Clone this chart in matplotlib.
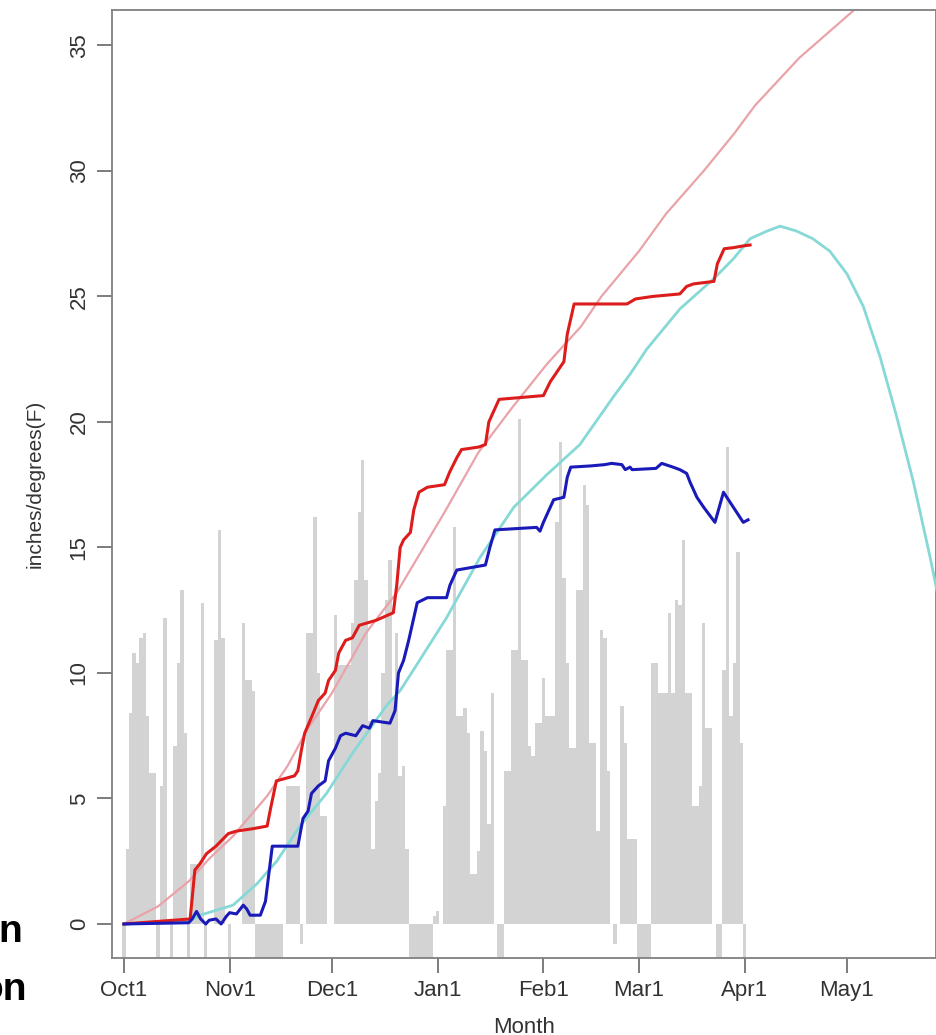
import matplotlib
matplotlib.use("Agg")
import matplotlib.pyplot as plt

plt.rcParams["font.family"] = ["Liberation Sans", "DejaVu Sans"]

# daily bars (Oct1 .. Apr1), one value per day
bar_oct = [-1.6, 3.0, 8.4, 10.8, 10.4, 11.4, 11.6, 8.3, 6.0, 6.0,
           -1.6, 5.5, 12.2, 0.0, -1.6, 7.1, 10.4, 13.3, 7.6, -1.6,
           2.4, 2.4, 2.4, 12.8, -1.6, 0.0, 0.0, 11.3, 15.7, 11.4, 0.0]
bar_nov = [-1.6, 0.0, 0.0, 0.0, 12.0, 9.7, 9.7, 9.3, -1.6, -1.6,
           -1.6, -1.6, -1.6, -1.6, -1.6, -1.6, 0.0, 5.5, 5.5, 5.5,
           5.5, -0.8, 0.0, 11.6, 11.6, 16.2, 10.0, 4.3, 4.3, 0.0]
bar_dec = [0.0, 12.3, 10.3, 10.3, 10.3, 10.3, 12.0, 13.7, 16.4, 18.5,
           13.7, 8.1, 3.0, 4.9, 6.0, 10.0, 12.9, 14.5, 9.0, 11.6,
           5.9, 6.3, 3.0, -1.6, -1.6, -1.6, -1.6, -1.6, -1.6, -1.6, 0.3]
bar_jan = [0.5, 0.0, 4.7, 10.9, 10.9, 15.8, 8.3, 8.3, 8.6, 7.6,
           2.0, 2.0, 2.9, 7.7, 6.9, 4.0, 9.2, 0.0, -1.6, -1.6,
           6.1, 6.1, 10.9, 10.9, 20.1, 10.5, 10.5, 7.1, 6.7, 8.0, 8.0]
bar_feb = [9.8, 8.3, 8.3, 8.3, 16.0, 19.2, 13.8, 10.4, 7.0, 7.0,
           13.3, 13.3, 17.5, 16.7, 7.2, 7.2, 3.7, 11.7, 11.4, 6.1,
           0.0, -0.8, 0.0, 8.7, 7.2, 3.4, 3.4, 3.4]
bar_mar = [-1.6, -1.6, -1.6, -1.6, 10.4, 10.4, 9.2, 9.2, 9.2, 12.4,
           9.2, 12.9, 12.7, 15.3, 9.2, 9.2, 4.7, 4.7, 5.5, 12.0,
           7.8, 7.8, 0.0, -1.6, -1.6, 10.1, 19.0, 8.3, 10.4, 14.8, 7.2,
           -1.6]
bars = bar_oct + bar_nov + bar_dec + bar_jan + bar_feb + bar_mar
bar_days = list(range(len(bars)))

# pink: average cumulative precipitation
pink_day = [0, 10, 19, 25, 32, 42, 48, 54, 61, 71, 80, 87, 94, 104, 114,
            124, 134, 140, 151, 159, 170, 179, 185, 198, 214, 240]
pink_val = [0, 0.7, 1.7, 2.6, 3.5, 5.1, 6.3, 7.8, 9.2, 11.6, 13.2, 14.8,
            16.4, 18.8, 20.6, 22.3, 23.8, 25.0, 26.8, 28.3, 30.0, 31.5,
            32.6, 34.5, 36.4, 39.5]

# cyan: median snow water
cyan_day = [0, 19, 22.3, 32, 39, 44.8, 51.6, 59.4, 67, 77, 81, 84.8, 94.6,
            104.4, 114.3, 124, 133.7, 143.5, 148.4, 153.3, 163, 172.9,
            178.7, 183.6, 188.5, 192.4, 197.3, 202, 207, 212, 216.8, 221.7,
            226.6, 231.5, 236.4, 240]
cyan_val = [0, 0.1, 0.35, 0.75, 1.6, 2.5, 3.9, 5.2, 6.8, 8.7, 9.3, 10.1,
            12.2, 14.6, 16.6, 17.9, 19.1, 21.0, 21.9, 22.9, 24.5, 25.7, 26.5,
            27.3, 27.6, 27.8, 27.6, 27.3, 26.8, 25.9, 24.6, 22.6, 20.2, 17.6,
            14.6, 12.2]

# red: this year's cumulative precipitation
red_day = [0, 19.4, 20, 20.8, 22.3, 24.2, 27, 30.6, 33, 38, 42, 43, 44.7,
           50, 51, 52, 53, 55.5, 57, 59, 60, 62, 63, 65, 67, 69, 74, 79, 80,
           81, 82, 84, 85, 86.5, 89, 94, 95.5, 97.7, 99, 104, 106, 107, 110,
           123, 125, 127, 129, 130, 132, 147.5, 150, 155, 163, 165, 167, 173,
           174, 176, 179, 181, 183.6]
red_val = [0, 0.2, 1.0, 2.15, 2.4, 2.8, 3.1, 3.6, 3.7, 3.8, 3.9, 4.6, 5.7,
           5.9, 6.1, 6.9, 7.6, 8.4, 8.9, 9.2, 9.7, 10.1, 10.8, 11.3, 11.4,
           11.9, 12.1, 12.4, 13.5, 15.0, 15.3, 15.6, 16.5, 17.2, 17.4, 17.5,
           18.0, 18.6, 18.9, 19.0, 19.1, 20.0, 20.9, 21.05, 21.6, 22.0, 22.4,
           23.5, 24.7, 24.7, 24.9, 25.0, 25.1, 25.4, 25.5, 25.6, 26.3, 26.9,
           26.95, 27.0, 27.05]

# blue: this year's snow water
blue_day = [0, 19, 20, 21.3, 22.5, 24, 25, 27, 28.5, 30, 31, 33, 35, 36, 37,
            40, 41.5, 42.5, 43.5, 51, 52.5, 54, 55, 57, 59, 60, 62, 63.5, 65,
            68, 70, 72, 73, 78, 79.5, 80.5, 82, 83.5, 85, 86, 89, 94.6, 95.6,
            97.6, 106, 107.3, 108.8, 121, 122, 123, 125, 126, 129, 130, 131,
            137, 141, 143, 146, 147, 148.4, 149, 156, 157.7, 161, 163, 165,
            166, 168, 170, 173.3, 175.8, 178.7, 181.6, 183]
blue_val = [0, 0.05, 0.2, 0.5, 0.2, 0.0, 0.15, 0.2, 0.0, 0.3, 0.45, 0.4,
            0.75, 0.6, 0.35, 0.35, 0.9, 2.0, 3.1, 3.1, 4.2, 4.5, 5.2, 5.5,
            5.7, 6.5, 7.0, 7.5, 7.6, 7.5, 7.9, 7.8, 8.1, 8.0, 8.5, 10.0, 10.5,
            11.3, 12.2, 12.8, 13.0, 13.0, 13.5, 14.1, 14.3, 15.0, 15.7, 15.8,
            15.65, 16.0, 16.6, 16.9, 17.0, 17.8, 18.2, 18.25, 18.3, 18.35,
            18.3, 18.1, 18.2, 18.1, 18.15, 18.35, 18.2, 18.1, 17.95, 17.6,
            17.0, 16.6, 16.0, 17.2, 16.6, 16.0, 16.1]

month_ticks = [0, 31, 61, 92, 123, 151, 182, 212]
month_labels = ["Oct1", "Nov1", "Dec1", "Jan1", "Feb1", "Mar1", "Apr1", "May1"]

fig = plt.figure(figsize=(9.37, 10.35), dpi=100)
ax = fig.add_axes([0.1195, 0.0744, 0.8794, 0.9159])

ax.bar(bar_days, bars, width=1.0, color="#d3d3d3", linewidth=0, zorder=1)
ax.plot(pink_day, pink_val, color="#e9a3a9", lw=1.6, zorder=2)
ax.plot(cyan_day, cyan_val, color="#86d9d6", lw=2.0, zorder=3)
ax.plot(red_day, red_val, color="#dd1c1c", lw=2.2, zorder=4)
ax.plot(blue_day, blue_val, color="#1a1ab8", lw=2.2, zorder=5)

ax.set_xlim(-3.5, 238.1)
ax.set_ylim(-1.355, 36.41)
ax.set_xticks(month_ticks)
ax.set_xticklabels(month_labels)
ax.set_yticks(range(0, 36, 5))

for s in ax.spines.values():
    s.set_color("#808080")
    s.set_linewidth(1.3)
ax.tick_params(direction="out", length=11, width=1.2, color="#666666",
               labelcolor="#333333", labelsize=16, pad=5)
ax.tick_params(axis="y", labelrotation=90)
for t in ax.get_yticklabels():
    t.set_va("center")

ax.set_xlabel("Month", fontsize=16, color="#333333")
ax.xaxis.set_label_coords(0.5, -0.0622)
ax.set_ylabel("inches/degrees(F)", fontsize=15, color="#333333")
ax.yaxis.set_label_coords(-0.0813, 0.5)

# cut-off bold words at the left margin
fig.text(22 / 937, 1 - 942 / 1035, "n", ha="right", va="baseline",
         fontsize=28, fontweight="bold", color="black")
fig.text(27 / 937, 1 - 1000 / 1035, "on", ha="right", va="baseline",
         fontsize=28, fontweight="bold", color="black")

fig.savefig("out.png", dpi=100)
